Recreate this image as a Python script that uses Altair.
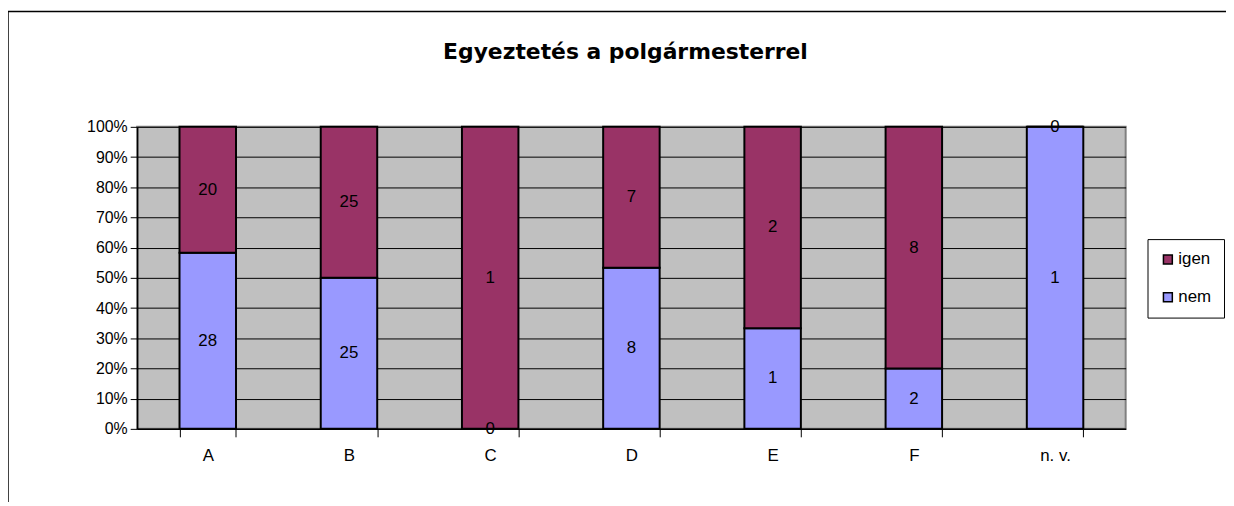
import altair as alt
import pandas as pd

categories = ["A", "B", "C", "D", "E", "F", "n. v."]
nem = [28, 25, 0, 8, 1, 2, 1]
igen = [20, 25, 1, 7, 2, 8, 0]
series = ["igen", "nem"]
colors = ["#993366", "#9999FF"]
y_ticks = [0, 0.1, 0.2, 0.3, 0.4, 0.5, 0.6, 0.7, 0.8, 0.9, 1.0]

rows = []
for c, n, i in zip(categories, nem, igen):
    rows.append({"cat": c, "series": "nem", "value": n, "order": 0})
    rows.append({"cat": c, "series": "igen", "value": i, "order": 1})
df = pd.DataFrame(rows)

FONT = "Liberation Sans"

base = alt.Chart(df).transform_stack(
    stack="value", groupby=["cat"], as_=["y0", "y1"], offset="normalize",
    sort=[alt.SortField("order", order="ascending")]
).transform_calculate(mid="(datum.y0 + datum.y1) / 2")

x_scale = alt.Scale(paddingInner=0.6, paddingOuter=0.3)
y_scale = alt.Scale(domain=[0, 1], nice=False)

x_axis = alt.Axis(title=None, labelAngle=0, tickBand="extent", tickSize=8,
                  tickColor="black", domainColor="black", domainWidth=1.5,
                  labelFont=FONT, labelFontSize=17, labelColor="black",
                  labelPadding=11, grid=False)
y_axis = alt.Axis(title=None, values=y_ticks, format=".0%",
                  labelOverlap=False,
                  grid=True, gridColor="black", gridWidth=1,
                  gridOpacity=1, domainColor="black", domainWidth=1.5,
                  tickColor="black", tickSize=7,
                  labelFont=FONT, labelFontSize=16, labelColor="black",
                  labelPadding=3)

bars = base.mark_bar(stroke="black", strokeWidth=2).encode(
    x=alt.X("cat:N", sort=categories, scale=x_scale, axis=x_axis),
    y=alt.Y("y0:Q", scale=y_scale, axis=y_axis),
    y2="y1:Q",
    color=alt.Color("series:N", scale=alt.Scale(domain=series, range=colors),
                    legend=alt.Legend(title=None, orient="none", legendX=1017,
                                      legendY=113, fillColor="white",
                                      strokeColor="black", padding=12,
                                      symbolType="square", symbolSize=80,
                                      symbolStrokeColor="black",
                                      symbolStrokeWidth=1.5, symbolOpacity=1,
                                      labelFont=FONT, labelFontSize=17,
                                      labelColor="black", labelOffset=2,
                                      rowPadding=20)),
)

labels = base.mark_text(font=FONT, fontSize=17, color="black").encode(
    x=alt.X("cat:N", sort=categories, scale=x_scale, axis=x_axis),
    y=alt.Y("mid:Q", scale=y_scale, axis=y_axis),
    text=alt.Text("value:Q"),
)

frame_df = pd.DataFrame({"k": [0]})
left_border = alt.Chart(frame_df).mark_rule(color="black", strokeWidth=1.5, clip=False).encode(
    x=alt.value(-130), y=alt.value(-116), y2=alt.value(390)
)
top_border = alt.Chart(frame_df).mark_rule(color="black", strokeWidth=1.5, clip=False).encode(
    x=alt.value(-130), x2=alt.value(1100), y=alt.value(-116)
)

chart = alt.layer(bars, labels, left_border, top_border).properties(
    width=995, height=304,
    background="white",
    title=alt.TitleParams("Egyeztetés a polgármesterrel", font="DejaVu Sans",
                          fontSize=22, fontWeight="bold", color="black",
                          anchor="middle", offset=-53, dx=-6),
    autosize=alt.AutoSizeParams(type="none"),
    padding={"left": 130, "top": 118, "right": 101, "bottom": 72},
).configure_view(
    fill="#C0C0C0", stroke="#808080", strokeWidth=2
)

chart.save("out.html", embed_options={"renderer": "svg", "actions": False})
